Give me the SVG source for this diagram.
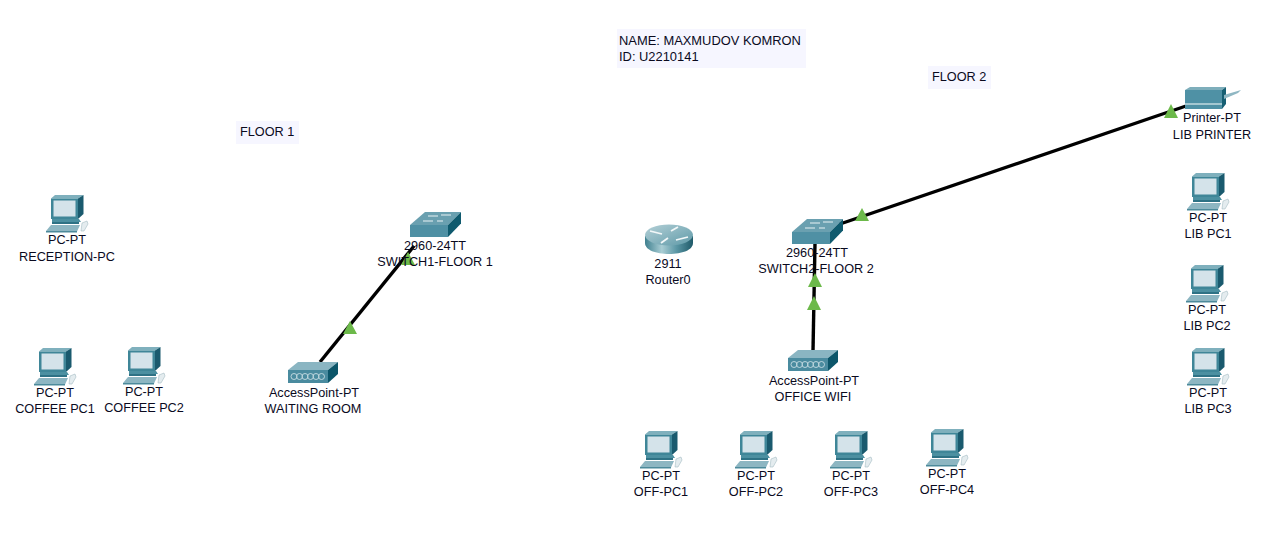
<svg xmlns="http://www.w3.org/2000/svg" width="1284" height="553" viewBox="0 0 1284 553">
<style>
text{font-family:"Liberation Sans",Arial,sans-serif;font-size:12.700px;fill:#0a0a1e}
.l{text-anchor:middle}
.note{fill:#f6f6ff}
.n{font-size:12.900px}
.cable{stroke:#000;stroke-width:3.4;fill:none}
.tri{fill:#6cb94a}
</style>
<defs>
<linearGradient id="rt" x1="0" x2="1" y1="0" y2="0"><stop offset="0" stop-color="#3f808f"/><stop offset=".35" stop-color="#a9cdd4"/><stop offset=".65" stop-color="#5c98a6"/><stop offset="1" stop-color="#1f5a69"/></linearGradient>
<linearGradient id="rtop" x1="0" x2="1" y1="0" y2="1"><stop offset="0" stop-color="#b4d0d7"/><stop offset="1" stop-color="#5f9aa8"/></linearGradient>
<symbol id="pc" overflow="visible">
<path d="M5 3.500 9 0H37.500L32 3.500Z" fill="#7fb0bd"/>
<path d="M5 3.500H32V24H5Z" fill="#3f8698"/>
<path d="M32 3.500 37.500 0V19L32 24Z" fill="#1a5a6e"/>
<path d="M7.500 5.500H29.500V21.500H7.500Z" fill="#d4e3ea"/>
<path d="M6 24H33L35 27H6Z" fill="#4c90a1"/>
<path d="M6 27H33V29H6Z" fill="#2e7285"/>
<path d="M0 36 5 30H34L31 36.500Z" fill="#8db6c2"/>
<path d="M0 36H31V37.500H0Z" fill="#4c8a9b"/>
<path d="M36 28 41 26 42 29 38 36 35 36Z" fill="#e4ecef" stroke="#a5bcc3" stroke-width=".6"/>
</symbol>
<symbol id="sw" overflow="visible">
<path d="M0 13 15 0H51L38 13Z" fill="#6aa0b0"/>
<path d="M0 13H38V25H0Z" fill="#4f90a4"/>
<path d="M38 13 51 0V11.500L38 25Z" fill="#0f5a6e"/>
<path d="M18 4H28M31 3H41M13 9H23M27 9H33" stroke="#e8f1f3" stroke-width="1.200"/>
</symbol>
<symbol id="ap" overflow="visible">
<path d="M0 8 10 0H50L40 8Z" fill="#8ab5c2"/>
<path d="M0 8H40V21H0Z" fill="#4a8b9f"/>
<path d="M40 8 50 0V12L40 21Z" fill="#0c566a"/>
<g fill="none" stroke="#c7dde3" stroke-width=".9"><circle cx="6" cy="14.500" r="3"/><circle cx="11.500" cy="14.500" r="3"/><circle cx="17" cy="14.500" r="3"/><circle cx="22.500" cy="14.500" r="3"/><circle cx="28" cy="14.500" r="3"/><circle cx="33.500" cy="14.500" r="3"/></g>
</symbol>
</defs>
<rect width="1284" height="553" fill="#fff"/>

<g id="connectors">
<path class="cable" d="M320 362 414 246"/>
<path class="cable" d="M813 351 815 243"/>
<path class="cable" d="M840 224 1186 106"/>
<path class="tri" d="M350 321 357 334H343Z"/>
<path class="tri" d="M408 252 415 265H401Z"/>
<path class="tri" d="M814 296 821 310H807Z"/>
<path class="tri" d="M815 273 822 287H808Z"/>
<path class="tri" d="M862 208 869 221H855Z"/>
<path class="tri" d="M1171 104 1178 118H1164Z"/>
</g>

<g id="note-name"><rect class="note" x="617" y="29" width="189" height="39"/><text class="n" x="619" y="45">NAME: MAXMUDOV KOMRON</text><text class="n" x="619" y="61">ID: U2210141</text></g>
<g id="note-floor1"><rect class="note" x="236" y="121" width="63" height="23"/><text x="240" y="136">FLOOR 1</text></g>
<g id="note-floor2"><rect class="note" x="928" y="66" width="63" height="23"/><text x="932" y="81">FLOOR 2</text></g>

<g id="reception-pc"><use href="#pc" x="46" y="195"/><text class="l" x="67" y="244">PC-PT</text><text class="l" x="67" y="261">RECEPTION-PC</text></g>
<g id="coffee-pc1"><use href="#pc" x="34" y="348"/><text class="l" x="55" y="397">PC-PT</text><text class="l" x="55" y="413">COFFEE PC1</text></g>
<g id="coffee-pc2"><use href="#pc" x="123" y="347"/><text class="l" x="144" y="396">PC-PT</text><text class="l" x="144" y="412">COFFEE PC2</text></g>

<g id="switch1"><use href="#sw" x="410" y="212"/><text class="l" x="435" y="250">2960-24TT</text><text class="l" x="435" y="266">SWITCH1-FLOOR 1</text></g>
<g id="ap-waiting"><use href="#ap" x="288" y="362"/><text class="l" x="314" y="397">AccessPoint-PT</text><text class="l" x="313" y="413">WAITING ROOM</text></g>

<g id="router0">
<path d="M645 236V243C645 250 656 254 669 254 682 254 693 250 693 243V236Z" fill="url(#rt)"/>
<ellipse cx="669" cy="235" rx="24" ry="10.500" fill="url(#rtop)"/>
<path d="M650 231 662 234M676 240 688 237M661 243 668 238M671 231 678 227" stroke="#f2f7f8" stroke-width="1.800" fill="none"/>
<text class="l" x="668" y="268">2911</text><text class="l" x="668" y="284">Router0</text>
</g>

<g id="switch2"><use href="#sw" x="792" y="219"/><text class="l" x="817" y="257">2960-24TT</text><text class="l" x="816" y="273">SWITCH2-FLOOR 2</text></g>
<g id="ap-office"><use href="#ap" x="788" y="350"/><text class="l" x="814" y="385">AccessPoint-PT</text><text class="l" x="813" y="401">OFFICE WIFI</text></g>

<g id="printer">
<path d="M1185 90 1190 87H1226L1222 90Z" fill="#7eaebb"/>
<path d="M1185 90H1222V109H1185Z" fill="#4f91a5"/>
<path d="M1185 103H1222V105H1185Z" fill="#a4c7d0"/>
<path d="M1222 90 1226 87V104L1222 109Z" fill="#165f73"/>
<path d="M1224 95 1241 90 1238 93 1224 99Z" fill="#8fb7c3"/>
<text class="l" x="1212" y="122">Printer-PT</text><text class="l" x="1212" y="139">LIB PRINTER</text>
</g>

<g id="lib-pc1"><use href="#pc" x="1187" y="173"/><text class="l" x="1208" y="222">PC-PT</text><text class="l" x="1208" y="238">LIB PC1</text></g>
<g id="lib-pc2"><use href="#pc" x="1186" y="265"/><text class="l" x="1207" y="314">PC-PT</text><text class="l" x="1207" y="330">LIB PC2</text></g>
<g id="lib-pc3"><use href="#pc" x="1187" y="348"/><text class="l" x="1208" y="397">PC-PT</text><text class="l" x="1208" y="413">LIB PC3</text></g>

<g id="off-pc1"><use href="#pc" x="640" y="431"/><text class="l" x="661" y="480">PC-PT</text><text class="l" x="661" y="496">OFF-PC1</text></g>
<g id="off-pc2"><use href="#pc" x="735" y="431"/><text class="l" x="756" y="480">PC-PT</text><text class="l" x="756" y="496">OFF-PC2</text></g>
<g id="off-pc3"><use href="#pc" x="830" y="431"/><text class="l" x="851" y="480">PC-PT</text><text class="l" x="851" y="496">OFF-PC3</text></g>
<g id="off-pc4"><use href="#pc" x="926" y="429"/><text class="l" x="947" y="478">PC-PT</text><text class="l" x="947" y="494">OFF-PC4</text></g>
</svg>
